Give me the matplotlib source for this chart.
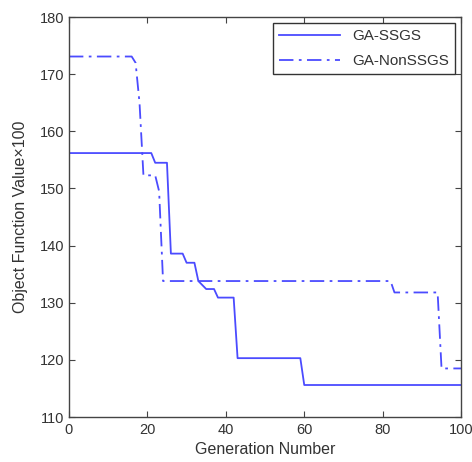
import matplotlib.pyplot as plt

plt.rcParams['font.family'] = ['Liberation Sans', 'DejaVu Sans']

# GA-SSGS (solid line), generation -> objective value x100
ssgs_gen = [0, 21, 22, 25, 26, 29, 30, 32, 33, 35, 37, 38, 42, 43, 59, 60, 100]
ssgs_val = [156.2, 156.2, 154.5, 154.5, 138.6, 138.6, 137.0, 137.0, 133.8,
            132.4, 132.4, 130.9, 130.9, 120.3, 120.3, 115.6, 115.6]

# GA-NonSSGS (dash-dot line)
non_gen = [0, 16, 17, 18, 19, 22, 23, 24, 82, 83, 94, 95, 100]
non_val = [173.1, 173.1, 172.0, 165.0, 152.3, 152.3, 149.5, 133.8, 133.8,
           131.8, 131.8, 118.5, 118.5]

x_ticks = [0, 20, 40, 60, 80, 100]
y_ticks = [110, 120, 130, 140, 150, 160, 170, 180]

blue = '#4b4bff'
txt = '#333333'

fig = plt.figure(figsize=(4.72, 4.62), dpi=100)
ax = fig.add_axes([0.146, 0.0974, 0.831, 0.8656])

ax.plot(ssgs_gen, ssgs_val, color=blue, lw=1.3, linestyle='-', label='GA-SSGS')
ax.plot(non_gen, non_val, color=blue, lw=1.3, linestyle=(0, (8, 3, 1.5, 3)), label='GA-NonSSGS')

ax.set_xlim(0, 100)
ax.set_ylim(110, 180)
ax.set_xticks(x_ticks)
ax.set_yticks(y_ticks)
ax.tick_params(direction='in', top=True, right=True, length=4, labelsize=10.5,
               colors='#444444', labelcolor=txt, pad=3)
ax.tick_params(axis='x', pad=4)
for s in ax.spines.values():
    s.set_color('#444444')
    s.set_linewidth(1.0)

ax.set_xlabel('Generation Number', fontsize=11.5, color=txt, labelpad=4)
ax.set_ylabel('Object Function Value×100', fontsize=11.5, color=txt, labelpad=9)

leg = ax.legend(loc='upper right', fontsize=11, fancybox=False, framealpha=1,
                edgecolor='#333333', handlelength=4.0, borderaxespad=0.4,
                labelspacing=0.7)
leg.get_frame().set_linewidth(1.0)
for t in leg.get_texts():
    t.set_color(txt)

fig.savefig('out.png', dpi=100)
